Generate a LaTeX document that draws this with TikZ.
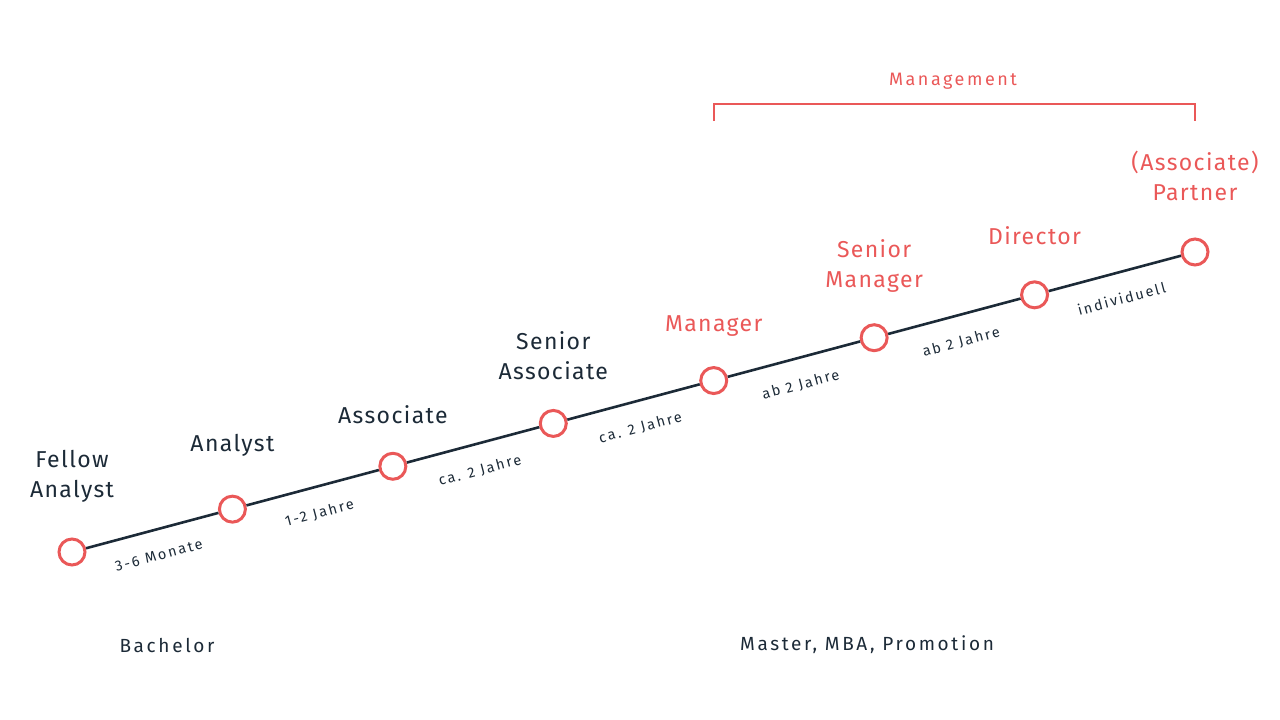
\documentclass[tikz,border=0pt]{standalone}
\usepackage{fontspec}
\setmainfont{Fira Sans}[LetterSpace=6]
\newfontfamily\widefont{Fira Sans}[LetterSpace=14]
\usetikzlibrary{positioning}
\definecolor{navy}{HTML}{1C2A37}
\definecolor{coral}{HTML}{EA5858}

\begin{document}
\begin{tikzpicture}[x=1pt,y=-1pt,inner sep=0pt,
				stage/.style={circle,draw=coral,line width=3pt,fill=white,minimum size=26pt},
				title/.style={align=center,text=navy,font=\fontsize{23}{30}\selectfont},
				title4/.style={text=coral},
				title5/.style={text=coral},
				title6/.style={text=coral},
				title7/.style={text=coral},
				span/.style={sloped,below=19pt,text=navy,font=\widefont\fontsize{14.5}{16}\selectfont},
				degree/.style={text=navy,font=\widefont\fontsize{19}{20}\selectfont},
				track/.style={draw=navy,line width=2.6pt}]
				
				\useasboundingbox (0,0) rectangle (1280,720);
				
				\foreach \i in {0,...,7}{
					\node at (72+160.43*\i,552-42.86*\i) [stage] (s\i) {};
				};
				
				\foreach \i/\d/\t in {0/76/Fellow\\Analyst,1/64/Analyst,2/52/Associate,3/68/Senior\\Associate,
					4/55/Manager,5/72/Senior\\Manager,6/59/Director,7/76/(Associate)\\Partner}{
					\node at ([yshift=\d pt]s\i) [title,title\i/.try] (t\i) {\t};
				};
				
				\foreach \i/\t [count=\j] in {0/3-6 Monate,1/1-2 Jahre,2/ca. 2 Jahre,3/ca. 2 Jahre,
					4/ab 2 Jahre,5/ab 2 Jahre,6/individuell}{
					\path[track] (s\i) edge node[span] (d\i) {\t} (s\j);
				};
				
				% Management bracket
				\coordinate (m0) at (714,121);
				\coordinate (m1) at (1195,121);
				\draw[coral,line width=1.3pt] (m0) -- ++(0,-17) -| (m1);
				\node at (953,81) [text=coral,font=\widefont\fontsize{18}{20}\selectfont] (mg) {Management};
				
				\node at (167,645) [degree] (ba) {Bachelor};
				\node at (867,645) [degree] (ma) {Master, MBA, Promotion};
				
			\end{tikzpicture}
\end{document}
